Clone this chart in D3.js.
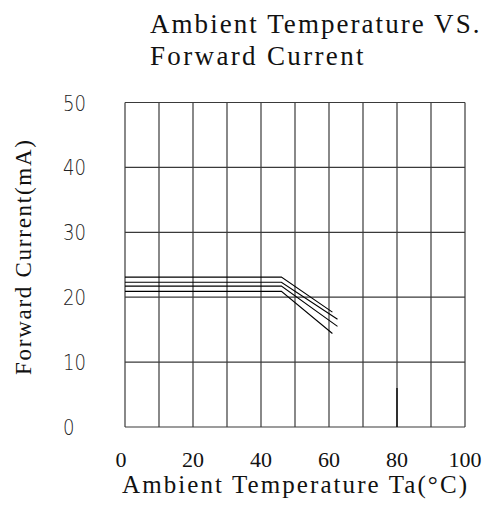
<!DOCTYPE html>
<html>
<head>
<meta charset="utf-8">
<script src="https://cdn.jsdelivr.net/npm/d3@7"></script>
<style>
  html, body { margin: 0; padding: 0; background: #fff; }
  svg { display: block; }
</style>
</head>
<body>
<div id="chart"></div>
<script>
// values
const xTicks = [0, 20, 40, 60, 80, 100];
const yTicks = [0, 10, 20, 30, 40, 50];
const xGrid = [0, 10, 20, 30, 40, 50, 60, 70, 80, 90, 100];
const yGrid = [0, 10, 20, 30, 40, 50];

// derating curves: [temperature, current]
const curveA = [[0, 23.1], [46, 23.1], [61, 17.7]];
const curveB = [[0, 22.3], [46, 22.3], [62.5, 16.6]];
const curveC = [[0, 21.7], [46, 21.7], [62.5, 15.5]];
const curveD = [[0, 20.9], [46, 20.9], [61, 14.4]];
const curves = [curveA, curveB, curveC, curveD];

// short dark stub on the 80 degree line
const stub = [[80, 0], [80, 6]];

const titleLines = ['Ambient Temperature VS.', 'Forward Current'];
const xTitle = 'Ambient Temperature Ta(\u00B0C)';
const yTitle = 'Forward Current(mA)';

(($d3) => {
  const width = 485,
    height = 518,
    margins = { top: 102.5, right: 20, bottom: 91, left: 125 };

  const svg = $d3
    .select('#chart')
    .append('svg')
    .attr('xmlns', 'http://www.w3.org/2000/svg')
    .attr('width', width)
    .attr('height', height);

  svg.append('rect').attr('width', width).attr('height', height).attr('fill', '#fff');

  const x = $d3.scaleLinear().domain([0, 100]).range([margins.left, width - margins.right]);
  const y = $d3.scaleLinear().domain([0, 50]).range([height - margins.bottom, margins.top]);

  const serif = '"Liberation Serif", "DejaVu Serif", serif';
  // the original uses a monospaced serif; stretch a serif face to the same run length
  const charW = 14.5;

  // grid
  const grid = svg.append('g').attr('class', 'grid').attr('stroke', '#3a3a3a').attr('stroke-width', 1.2);
  grid
    .selectAll('line.v')
    .data(xGrid)
    .enter()
    .append('line')
    .attr('class', 'v')
    .attr('x1', (d) => x(d))
    .attr('x2', (d) => x(d))
    .attr('y1', y(0))
    .attr('y2', y(50));
  grid
    .selectAll('line.h')
    .data(yGrid)
    .enter()
    .append('line')
    .attr('class', 'h')
    .attr('x1', x(0))
    .attr('x2', x(100))
    .attr('y1', (d) => y(d))
    .attr('y2', (d) => y(d));

  svg
    .append('line')
    .attr('x1', x(stub[0][0]))
    .attr('x2', x(stub[1][0]))
    .attr('y1', y(stub[0][1]))
    .attr('y2', y(stub[1][1]))
    .attr('stroke', '#000')
    .attr('stroke-width', 1.3);

  // curves
  const line = $d3
    .line()
    .x((d) => x(d[0]))
    .y((d) => y(d[1]));
  svg
    .append('g')
    .attr('class', 'curves')
    .selectAll('path')
    .data(curves)
    .enter()
    .append('path')
    .attr('d', line)
    .attr('fill', 'none')
    .attr('stroke', '#000')
    .attr('stroke-width', 1.1);

  // y tick labels (thin sans, left aligned)
  svg
    .append('g')
    .selectAll('text')
    .data(yTicks)
    .enter()
    .append('text')
    .attr('transform', (d) => 'translate(63,' + (y(d) + 8) + ') scale(0.95,1.1)')
    .attr('font-family', '"DejaVu Sans", sans-serif')
    .attr('font-weight', 200)
    .attr('font-size', 19)
    .attr('fill', '#222')
    .text((d) => d);

  // x tick labels
  svg
    .append('g')
    .selectAll('text')
    .data(xTicks)
    .enter()
    .append('text')
    .attr('x', (d) => (d === 0 ? x(d) - 4 : x(d)))
    .attr('y', 467)
    .attr('text-anchor', 'middle')
    .attr('font-family', serif)
    .attr('font-size', 22)
    .attr('fill', '#111')
    .text((d) => d);

  // titles
  svg
    .append('g')
    .selectAll('text')
    .data(titleLines)
    .enter()
    .append('text')
    .attr('x', 150)
    .attr('y', (d, i) => 33 + i * 32)
    .attr('font-family', serif)
    .attr('font-size', 27)
    .attr('textLength', (d) => d.length * charW - 4)
    .attr('lengthAdjust', 'spacing')
    .attr('fill', '#111')
    .text((d) => d);

  svg
    .append('text')
    .attr('x', 122)
    .attr('y', 493)
    .attr('font-family', serif)
    .attr('font-size', 25)
    .attr('textLength', 345)
    .attr('lengthAdjust', 'spacing')
    .attr('fill', '#111')
    .text(xTitle);

  svg
    .append('text')
    .attr('transform', 'translate(31,375) rotate(-90)')
    .attr('font-family', serif)
    .attr('font-size', 23)
    .attr('textLength', 235)
    .attr('lengthAdjust', 'spacing')
    .attr('fill', '#111')
    .text(yTitle);
})(d3);
</script>
</body>
</html>
